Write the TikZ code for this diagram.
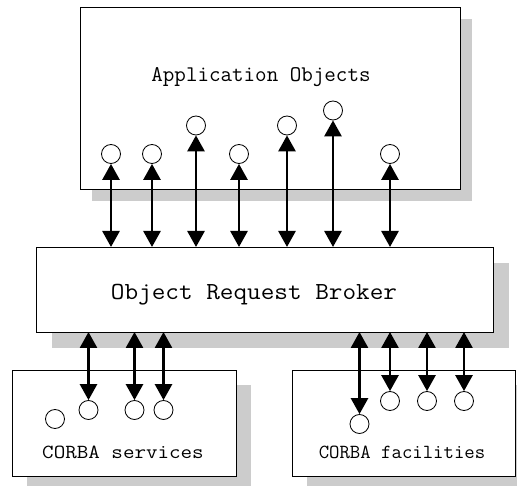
\documentclass[tikz,border=0pt]{standalone}
\usepackage{fontspec}
\usetikzlibrary{arrows.meta}
\definecolor{shadowgray}{HTML}{CCCCCC}
\newcommand{\lbl}[3]{\scalebox{#2}[1]{\fontsize{#1}{#1}\selectfont\ttfamily #3}}
\tikzset{
  box/.style={draw=black, line width=0.8pt, fill=white},
  shade/.style={fill=shadowgray, draw=none},
  port/.style={circle, draw=black, line width=0.8pt, fill=white, minimum size=19pt, inner sep=0pt},
  link/.style={line width=2.7pt, {Triangle[width=17pt,length=16pt]}-{Triangle[width=17pt,length=16pt]}},
  lab/.style={inner sep=0pt}
}
\begin{document}
\begin{tikzpicture}[x=1pt,y=-1pt]
\useasboundingbox (0,0) rectangle (517,486);
% shadows
\fill[shade] (92,19) rectangle (472,201);
\fill[shade] (52,263) rectangle (509,348);
\fill[shade] (27,385) rectangle (251,491);
\fill[shade] (307,385) rectangle (530,491);
% boxes
\draw[box] (80,7) rectangle (460,189);
\draw[box] (36,247) rectangle (493,332);
\draw[box] (12,370) rectangle (236,476);
\draw[box] (292,370) rectangle (515,476);
% box edges
\coordinate (orbN) at (0,247);
\coordinate (orbS) at (0,332);
% labels
\node[lab] (app) at (261,77) {\lbl{22.4}{1.0}{Application Objects}};
\node[lab] (orb) at (254,295) {\lbl{24.5}{1.08}{Object Request Broker}};
\node[lab] (serv) at (123,452) {\lbl{20}{1.12}{CORBA services}};
\node[lab] (fac) at (402,452) {\lbl{20}{1.01}{CORBA facilities}};
% top ports
\node[port] (a1) at (111,154) {};
\node[port] (a2) at (152,154) {};
\node[port] (a3) at (196,125.5) {};
\node[port] (a4) at (239,154) {};
\node[port] (a5) at (287,125.5) {};
\node[port] (a6) at (333,110.5) {};
\node[port] (a7) at (390,154) {};
\foreach \n in {a1,a2,a3,a4,a5,a6,a7}
  \draw[link] (\n.south) -- (\n.south |- orbN);
% services ports
\node[port] (s0) at (55,419) {};
\node[port] (s1) at (88.5,410) {};
\node[port] (s2) at (134.5,410) {};
\node[port] (s3) at (163.5,410) {};
\foreach \n in {s1,s2,s3}
  \draw[link] (\n.north |- orbS) -- (\n.north);
% facilities ports
\node[port] (f1) at (359.5,424) {};
\node[port] (f2) at (390,401) {};
\node[port] (f3) at (427,401) {};
\node[port] (f4) at (464,401) {};
\foreach \n in {f1,f2,f3,f4}
  \draw[link] (\n.north |- orbS) -- (\n.north);
\end{tikzpicture}
\end{document}
